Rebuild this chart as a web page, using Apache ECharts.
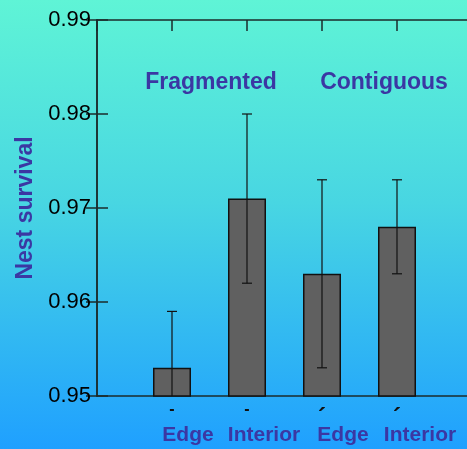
<!DOCTYPE html>
<html>
<head>
<meta charset="utf-8">
<script src="https://cdn.jsdelivr.net/npm/echarts@6/dist/echarts.min.js"></script>
<style>
  html, body { margin: 0; padding: 0; }
  #chart { width: 467px; height: 449px;
    background: linear-gradient(to bottom, #5ff4d6 0%, #48d6e2 45%, #1fa0ff 100%); }
</style>
</head>
<body>
<div id="chart"></div>
<script>
// Nest survival by habitat position and landscape type
const categories = ['Edge', 'Interior', 'Edge', 'Interior'];
const landscapes = ['Fragmented', 'Contiguous'];
const survival   = [0.953, 0.971, 0.963, 0.968];
const upperCI    = [0.959, 0.980, 0.973, 0.973];
const lowerCI    = [0.947, 0.962, 0.953, 0.963];
const tickMarks  = ['-', '-', '\u00b4', '\u00b4'];
const yTicks     = { min: 0.95, max: 0.99, step: 0.01 };

const positions = categories.map((_, i) => i + 1);
const ink = '#1b2b2b';
const labelBlue = '#3b37a3';
const font = 'Liberation Sans, Arial, sans-serif';

// category labels sit a little right of their bars
const labelShift = [32, 34, 42, 46];
const labelRich = {};
labelShift.forEach((p, i) => {
  labelRich['c' + i] = {
    color: labelBlue, fontSize: 21, fontWeight: 'bold', fontFamily: font,
    padding: [0, 0, 0, p]
  };
});

const markRich = {
  d: { color: '#111', fontSize: 16, fontWeight: 'bold', fontFamily: font },
  s: { color: '#111', fontSize: 24, fontWeight: 'bold', fontFamily: font, padding: [4, 0, 0, 0] }
};

const chart = echarts.init(document.getElementById('chart'), null, { renderer: 'canvas' });

const frameAxis = {
  axisLine: { show: true, lineStyle: { color: ink, width: 1.5 } },
  splitLine: { show: false }
};

chart.setOption({
  backgroundColor: 'transparent',
  animation: false,
  grid: { left: 97, top: 20, width: 375, height: 376, containLabel: false, outerBoundsMode: 'none' },
  xAxis: [
    Object.assign({}, frameAxis, {
      type: 'value', position: 'bottom', min: 0, max: categories.length + 1, interval: 1,
      axisTick: { show: false },
      axisLabel: {
        show: true, margin: 6, showMinLabel: false, showMaxLabel: false,
        rich: markRich,
        formatter: v => {
          if (v < 1 || v > categories.length) return '';
          const m = tickMarks[v - 1];
          return '{' + (m === '-' ? 'd' : 's') + '|' + m + '}';
        }
      }
    }),
    {
      type: 'value', position: 'bottom', min: 0, max: categories.length + 1, interval: 1,
      axisLine: { show: false }, axisTick: { show: false }, splitLine: { show: false },
      axisLabel: {
        show: true, margin: 29, showMinLabel: false, showMaxLabel: false,
        color: labelBlue, fontSize: 21, fontWeight: 'bold', fontFamily: font,
        rich: labelRich,
        formatter: v => (v >= 1 && v <= categories.length)
          ? '{c' + (v - 1) + '|' + categories[v - 1] + '}' : ''
      }
    },
    Object.assign({}, frameAxis, {
      type: 'value', position: 'top', min: 0, max: categories.length + 1, interval: 1,
      axisTick: { show: true, inside: true, length: 11, lineStyle: { color: ink, width: 1.5 } },
      axisLabel: { show: false }
    })
  ],
  yAxis: [
    Object.assign({}, frameAxis, {
      type: 'value', position: 'left', min: yTicks.min, max: yTicks.max, interval: yTicks.step,
      axisTick: { show: true, inside: true, length: 11, lineStyle: { color: ink, width: 1.5 } },
      axisLabel: {
        show: true, margin: 6, color: '#000', fontSize: 22, fontFamily: font,
        formatter: v => v.toFixed(2)
      },
      name: 'Nest survival', nameLocation: 'middle', nameRotate: 90, nameGap: 60,
      nameTextStyle: { color: labelBlue, fontSize: 23, fontWeight: 'bold', fontFamily: font }
    }),
    Object.assign({}, frameAxis, {
      type: 'value', position: 'right', min: yTicks.min, max: yTicks.max, interval: yTicks.step,
      axisTick: { show: true, inside: true, length: 11, lineStyle: { color: ink, width: 1.5 } },
      axisLabel: { show: false }
    })
  ],
  graphic: [
    { type: 'text', x: 211, y: 83, style: {
        text: landscapes[0], align: 'center', verticalAlign: 'middle',
        fill: labelBlue, font: 'bold 23px ' + font } },
    { type: 'text', x: 384, y: 83, style: {
        text: landscapes[1], align: 'center', verticalAlign: 'middle',
        fill: labelBlue, font: 'bold 23px ' + font } }
  ],
  series: [
    {
      type: 'bar', xAxisIndex: 0, yAxisIndex: 0, barWidth: 38, clip: true,
      itemStyle: { color: '#606060', borderColor: '#111', borderWidth: 1.5 },
      data: positions.map((x, i) => [x, survival[i]])
    },
    {
      type: 'custom', xAxisIndex: 0, yAxisIndex: 0, clip: true, z: 5,
      data: positions.map((x, i) => [x, lowerCI[i], upperCI[i]]),
      renderItem: (params, api) => {
        const lo = api.coord([api.value(0), api.value(1)]);
        const hi = api.coord([api.value(0), api.value(2)]);
        const half = 5;
        const style = { stroke: '#111', lineWidth: 1.2 };
        return {
          type: 'group',
          children: [
            { type: 'line', shape: { x1: hi[0], y1: hi[1], x2: lo[0], y2: lo[1] }, style },
            { type: 'line', shape: { x1: hi[0] - half, y1: hi[1], x2: hi[0] + half, y2: hi[1] }, style },
            { type: 'line', shape: { x1: lo[0] - half, y1: lo[1], x2: lo[0] + half, y2: lo[1] }, style }
          ]
        };
      }
    }
  ]
});
</script>
</body>
</html>
